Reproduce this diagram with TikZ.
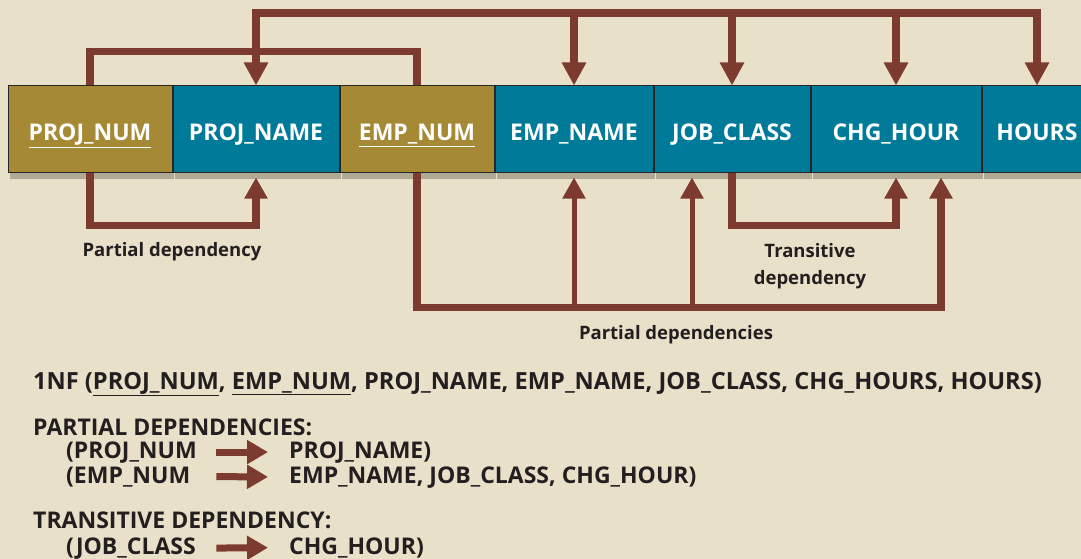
\documentclass[tikz,border=0pt]{standalone}
\usepackage{fontspec}
\setmainfont{Open Sans}
\usetikzlibrary{positioning,arrows.meta,shadows}

\definecolor{bg}{RGB}{232,224,200}
\definecolor{keygold}{RGB}{166,137,52}
\definecolor{attrblue}{RGB}{0,122,153}
\definecolor{deparrow}{RGB}{125,58,46}
\definecolor{ink}{RGB}{35,31,32}

\tikzset{
  col/.style={draw=black!85, line width=1pt, minimum height=86pt, inner sep=0pt,
    text height=24pt, text depth=0pt,
    text=white, font=\fontsize{23}{26}\selectfont\bfseries,
    drop shadow={shadow xshift=2pt, shadow yshift=-7pt, fill=black!35!bg, opacity=0.7}},
  keycol/.style={col, fill=keygold},
  attrcol/.style={col, fill=attrblue},
  link/.style={draw=deparrow, line width=7.5pt},
  dep/.style={link, -{Triangle[width=23pt,length=23pt]}},
  depup/.style={link, -{Triangle[width=22pt,length=21pt]}, shorten >=5pt},
  thin link/.style={line width=5pt},
  lbl/.style={text=ink, font=\fontsize{18.5}{27}\selectfont\bfseries, align=center},
  txt/.style={text=ink, font=\fontsize{23}{26}\selectfont\bfseries, inner sep=0pt, anchor=base west},
  lhs/.style={txt, text width=150pt},
  fat/.style={draw=deparrow, line width=7pt, -{Triangle[width=23pt,length=21pt]}, shorten >=21pt}
}

\begin{document}
\begin{tikzpicture}[x=1pt,y=-1pt]
  \useasboundingbox (0,0) rectangle (1081,559);
  \clip (0,0) rectangle (1081,559);
  \fill[bg] (0,0) rectangle (1081,559);

  % columns of the 1NF table
  \node[keycol, minimum width=164pt] (pnum) at (90,129) {\underline{PROJ\_NUM}};
  \node[attrcol, minimum width=166pt, right=0pt of pnum] (pname) {PROJ\_NAME};
  \node[keycol, minimum width=154pt, right=0pt of pname] (enum) {\underline{EMP\_NUM}};
  \node[attrcol, minimum width=158pt, right=0pt of enum] (ename) {EMP\_NAME};
  \node[attrcol, minimum width=156pt, right=0pt of ename] (jclass) {JOB\_CLASS};
  \node[attrcol, minimum width=170pt, right=0pt of jclass] (chour) {CHG\_HOUR};
  \node[attrcol, minimum width=110pt, right=0pt of chour] (hours) {HOURS};

  % upper arrows: composite key
  \draw[link] (pnum.north) -- ++(0,-34) -| (enum.north);
  \coordinate (topbar) at (0,13);
  \draw[link, line cap=rect] (pname.north |- topbar) -- (hours.north |- topbar);
  \foreach \c in {pname,ename,jclass,chour,hours}
    \draw[dep] (\c.north |- topbar) -- (\c.north);

  % lower arrows
  \draw[depup] (pnum.south) -- ++(0,53) -| (pname.south);
  \draw[depup] (jclass.south) -- ++(0,53) -| (chour.south);
  \coordinate (chx) at ([xshift=45pt]chour.south);
  \coordinate (jcx) at ([xshift=-40pt]jclass.south);
  \draw[depup] (enum.south) -- ++(0,135) coordinate (ebar) -| (chx);
  \draw[depup, thin link] (ename.south |- ebar) -- (ename.south);
  \draw[depup, thin link] (jcx |- ebar) -- (jcx);

  \node[lbl] (pdlbl) at (172,252) {Partial dependency};
  \node[lbl] (tdlbl) at (810,266) {Transitive\\dependency};
  \node[lbl] (pdslbl) at (676,335) {Partial dependencies};

  % dependency listing
  \node[txt, font=\fontsize{23.6}{26}\selectfont\bfseries] (nf) at (33,389) {1NF (\underline{PROJ\_NUM}, \underline{EMP\_NUM}, PROJ\_NAME, EMP\_NAME, JOB\_CLASS, CHG\_HOURS, HOURS)};
  \node[txt] (pdh) at (33,435) {PARTIAL DEPENDENCIES:};
  \node[lhs] (pd1l) at (66,458) {(PROJ\_NUM};
  \node[txt] (pd1r) at (289,458) {PROJ\_NAME)};
  \node[lhs] (pd2l) at (66,483) {(EMP\_NUM};
  \node[txt] (pd2r) at (289,483) {EMP\_NAME, JOB\_CLASS, CHG\_HOUR)};
  \node[txt] (tdh) at (33,528) {TRANSITIVE DEPENDENCY:};
  \node[lhs] (td1l) at (66,554) {(JOB\_CLASS};
  \node[txt] (td1r) at (289,554) {CHG\_HOUR)};
  \draw[fat] (pd1l.east) -- (pd1r.west);
  \draw[fat] (pd2l.east) -- (pd2r.west);
  \draw[fat] (td1l.east) -- (td1r.west);
\end{tikzpicture}
\end{document}
